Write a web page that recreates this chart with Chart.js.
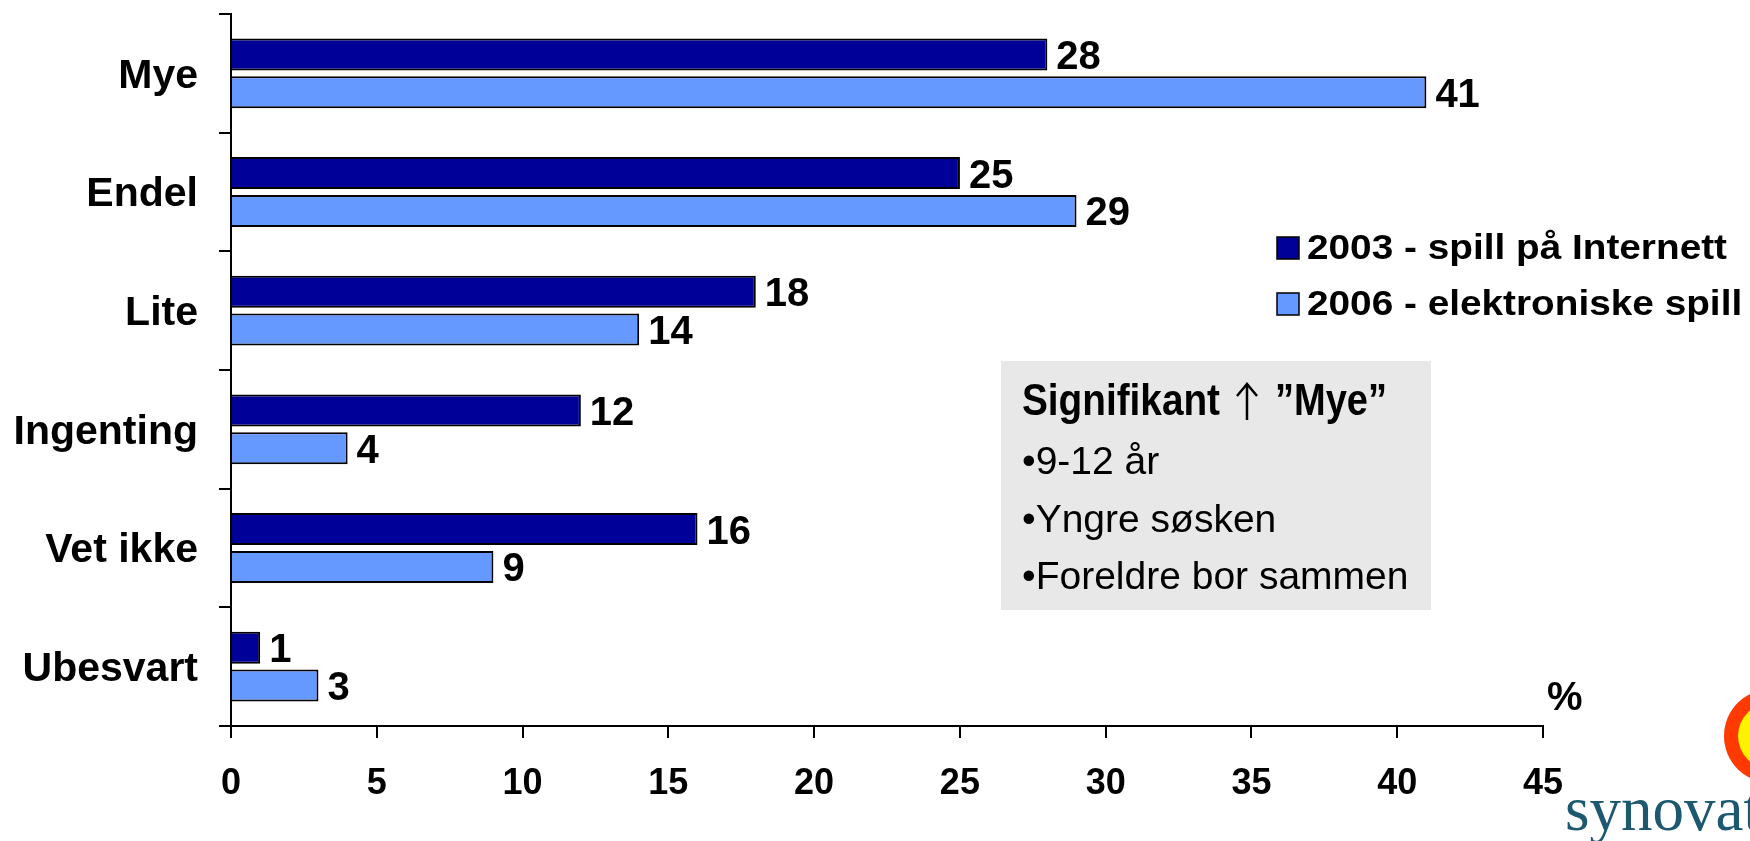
<!DOCTYPE html>
<html><head><meta charset="utf-8">
<script src="https://cdn.jsdelivr.net/npm/chart.js@4.4.0/dist/chart.umd.min.js"></script>
<style>html,body{margin:0;padding:0;background:#fff;overflow:hidden}#wrap{width:1750px;height:841px;position:relative}</style>
</head><body><div id="wrap"><canvas id="c" width="1750" height="841"></canvas></div>
<script>
const categories = ['Mye', 'Endel', 'Lite', 'Ingenting', 'Vet ikke', 'Ubesvart'];
const series2003 = [28, 25, 18, 12, 16, 1];
const series2006 = [41, 29, 14, 4, 9, 3];
const seriesNames = ['2003 - spill på Internett', '2006 - elektroniske spill'];
const xTickValues = [0, 5, 10, 15, 20, 25, 30, 35, 40, 45];
const unitLabel = '%';
const noteTitleWord = 'Signifikant';
const noteTitleArrow = '\u2191';
const noteTitleQuote = '\u201DMye\u201D';
const noteLines = ['\u20229-12 år', '\u2022Yngre søsken', '\u2022Foreldre bor sammen'];
const logoText = 'synovate';

const FONT = "'Liberation Sans', Arial, sans-serif";
const colors = ['#000099', '#6699FF'];

function fitText(ctx, text, x, y, width) {
  const w = ctx.measureText(text).width;
  ctx.save();
  ctx.translate(x, y);
  ctx.scale(width / w, 1);
  ctx.fillText(text, 0, 0);
  ctx.restore();
}

const extras = {
  id: 'extras',
  afterDatasetsDraw(chart) {
    const ctx = chart.ctx;
    ctx.save();
    ctx.fillStyle = '#000';
    ctx.font = 'bold 40px ' + FONT;
    ctx.textAlign = 'left';
    ctx.textBaseline = 'alphabetic';
    chart.data.datasets.forEach((ds, di) => {
      chart.getDatasetMeta(di).data.forEach((el, i) => {
        ctx.fillText(String(ds.data[i]), el.x + 9, el.y + 14.5);
      });
    });
    ctx.restore();
  },
  afterDraw(chart) {
    const ctx = chart.ctx;
    ctx.save();
    ctx.textBaseline = 'alphabetic';
    ctx.textAlign = 'left';
    // legend
    const ly = [237, 293];
    ctx.font = 'bold 35px ' + FONT;
    const sc = 420 / ctx.measureText(seriesNames[0]).width;
    chart.data.datasets.forEach((ds, i) => {
      ctx.fillStyle = ds.backgroundColor;
      ctx.fillRect(1277, ly[i], 22, 22);
      ctx.lineWidth = 1.5;
      ctx.strokeStyle = '#000';
      ctx.strokeRect(1277, ly[i], 22, 22);
      ctx.fillStyle = '#000';
      const w = ctx.measureText(ds.label).width;
      fitText(ctx, ds.label, 1307, ly[i] + 22, w * sc);
    });
    // note box
    ctx.fillStyle = '#E8E8E8';
    ctx.fillRect(1001, 361, 430, 249);
    ctx.fillStyle = '#000';
    ctx.font = 'bold 44px ' + FONT;
    fitText(ctx, noteTitleWord, 1022, 415, 198);
    fitText(ctx, noteTitleQuote, 1275, 415, 112);
    // arrow
    ctx.strokeStyle = '#000';
    ctx.lineWidth = 2.5;
    ctx.beginPath();
    ctx.moveTo(1247, 420); ctx.lineTo(1247, 385);
    ctx.moveTo(1237, 396); ctx.lineTo(1247, 384); ctx.lineTo(1257, 396);
    ctx.stroke();
    ctx.font = '39px ' + FONT;
    const nb = [474, 532, 589];
    noteLines.forEach((t, i) => ctx.fillText(t, 1022, nb[i]));
    // unit
    ctx.font = 'bold 40px ' + FONT;
    ctx.fillText(unitLabel, 1547, 710);
    // logo
    ctx.beginPath();
    ctx.arc(1771, 736, 47, 0, Math.PI * 2);
    ctx.fillStyle = '#FF3A00';
    ctx.fill();
    ctx.beginPath();
    ctx.arc(1771, 736, 33, 0, Math.PI * 2);
    ctx.fillStyle = '#FFF200';
    ctx.fill();
    ctx.fillStyle = '#1C5870';
    ctx.font = "63px 'Liberation Serif', 'Times New Roman', serif";
    ctx.fillText(logoText, 1565, 830);
    ctx.restore();
  }
};

new Chart(document.getElementById('c'), {
  type: 'bar',
  data: {
    labels: categories,
    datasets: [
      { label: seriesNames[0], data: series2003, backgroundColor: colors[0], borderColor: '#000', borderWidth: 2, borderSkipped: 'start' },
      { label: seriesNames[1], data: series2006, backgroundColor: colors[1], borderColor: '#000', borderWidth: 2, borderSkipped: 'start' }
    ]
  },
  options: {
    indexAxis: 'y',
    responsive: false,
    devicePixelRatio: 1,
    animation: false,
    datasets: { bar: { categoryPercentage: 0.637, barPercentage: 0.847 } },
    layout: { padding: { top: 14, right: 207, bottom: 0, left: 0 } },
    plugins: { legend: { display: false }, tooltip: { enabled: false } },
    scales: {
      x: {
        type: 'linear', min: 0, max: 45,
        afterBuildTicks(s) { s.ticks = xTickValues.map(v => ({ value: v })); },
        afterFit(s) { s.height = 115; s.paddingLeft = 0; s.paddingRight = 0; },
        grid: { display: true, drawOnChartArea: false, drawTicks: true, tickLength: 12, color: '#000', lineWidth: 2 },
        border: { display: true, color: '#000', width: 2 },
        ticks: { color: '#000', font: { family: FONT, size: 36, weight: 'bold' }, padding: 24, maxRotation: 0 }
      },
      y: {
        type: 'category',
        afterFit(s) { s.width = 231; s.paddingTop = 0; s.paddingBottom = 0; },
        grid: { display: true, offset: true, drawOnChartArea: false, drawTicks: true, tickLength: 12, color: '#000', lineWidth: 2 },
        border: { display: true, color: '#000', width: 2 },
        ticks: { color: '#000', font: { family: FONT, size: 41, weight: 'bold' }, padding: 21, labelOffset: 3 }
      }
    }
  },
  plugins: [extras]
});
</script></body></html>
